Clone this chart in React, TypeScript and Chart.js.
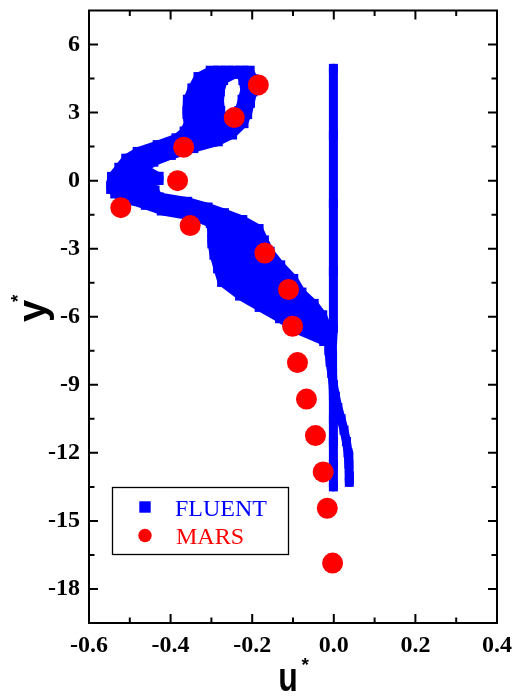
import React, { useEffect, useRef } from 'react';
import { Chart, registerables } from 'chart.js';

Chart.register(...registerables);

// ---------- axes ----------
const xRange = [-0.6, 0.4];
const yRange = [-19.5, 7.5];
const xTicks = [-0.6, -0.4, -0.2, 0.0, 0.2, 0.4];
const yTicks = [-18, -15, -12, -9, -6, -3, 0, 3, 6];
const xMinorTicks = [-0.5, -0.3, -0.1, 0.1, 0.3];
const yMinorTicks = [-16.5, -13.5, -10.5, -7.5, -4.5, -1.5, 1.5, 4.5];

// ---------- MARS (red circles) ----------
const marsU = [-0.185, -0.244, -0.368, -0.383, -0.522, -0.352, -0.169, -0.111, -0.101, -0.089, -0.067, -0.045, -0.026, -0.016, -0.003];
const marsY = [4.22, 2.78, 1.47, 0.0, -1.19, -1.98, -3.19, -4.8, -6.42, -8.02, -9.63, -11.24, -12.84, -14.44, -16.86];

// ---------- FLUENT (blue squares), several overlapping profiles ----------
const fluentS1 = [
  [-0.298, 4.78], [-0.328, 4.5], [-0.343, 4.0], [-0.354, 3.5], [-0.355, 3.0], [-0.352, 2.5],
  [-0.362, 2.1], [-0.382, 1.8], [-0.428, 1.5], [-0.477, 1.2], [-0.505, 0.9], [-0.522, 0.5],
  [-0.540, 0.1], [-0.542, -0.3], [-0.532, -0.5], [-0.492, -0.8], [-0.457, -1.0], [-0.418, -1.25],
  [-0.340, -1.5], [-0.298, -1.8], [-0.294, -2.2], [-0.294, -2.7], [-0.289, -3.2], [-0.280, -3.8],
  [-0.270, -4.4], [-0.226, -5.0], [-0.178, -5.5], [-0.128, -6.0], [-0.086, -6.5], [-0.020, -7.0],
];
const fluentS2 = [
  [-0.280, 4.78], [-0.308, 4.5], [-0.322, 4.0], [-0.333, 3.5], [-0.335, 3.0], [-0.330, 2.5],
  [-0.345, 2.1], [-0.365, 1.8], [-0.415, 1.5], [-0.465, 1.2], [-0.497, 0.9], [-0.515, 0.5],
  [-0.525, 0.1], [-0.535, -0.3], [-0.520, -0.5], [-0.485, -0.8], [-0.440, -1.0], [-0.400, -1.25],
  [-0.325, -1.5], [-0.285, -1.8], [-0.275, -2.2], [-0.272, -2.7], [-0.265, -3.2], [-0.253, -3.8],
  [-0.238, -4.4], [-0.198, -5.0], [-0.155, -5.5], [-0.110, -6.0], [-0.075, -6.5], [-0.018, -7.0],
];
const fluentS3 = [
  [-0.262, 4.78], [-0.290, 4.5], [-0.300, 4.0], [-0.308, 3.5], [-0.310, 3.0], [-0.300, 2.5],
  [-0.320, 2.1], [-0.345, 1.8], [-0.400, 1.5], [-0.450, 1.2], [-0.485, 0.9], [-0.505, 0.5],
  [-0.500, 0.1], [-0.525, -0.3], [-0.500, -0.5], [-0.470, -0.8], [-0.420, -1.0], [-0.375, -1.25],
  [-0.310, -1.5], [-0.270, -1.8], [-0.250, -2.2], [-0.247, -2.7], [-0.238, -3.2], [-0.223, -3.8],
  [-0.203, -4.4], [-0.168, -5.0], [-0.130, -5.5], [-0.090, -6.0], [-0.060, -6.5], [-0.016, -7.0],
];
const fluentS4 = [
  [-0.245, 4.78], [-0.275, 4.5], [-0.283, 4.0], [-0.285, 3.5], [-0.282, 3.0], [-0.270, 2.5],
  [-0.300, 2.1], [-0.325, 1.8], [-0.380, 1.5], [-0.430, 1.2], [-0.470, 0.9], [-0.495, 0.5],
  [-0.480, 0.1], [-0.510, -0.3], [-0.470, -0.5], [-0.460, -0.8], [-0.400, -1.0], [-0.350, -1.25],
  [-0.295, -1.5], [-0.255, -1.8], [-0.230, -2.2], [-0.222, -2.7], [-0.211, -3.2], [-0.193, -3.8],
  [-0.168, -4.4], [-0.138, -5.0], [-0.105, -5.5], [-0.070, -6.0], [-0.045, -6.5], [-0.015, -7.0],
];
const fluentS5 = [
  [-0.225, 4.78], [-0.218, 4.5], [-0.213, 4.0], [-0.220, 3.5], [-0.228, 3.0], [-0.240, 2.5],
  [-0.275, 2.1], [-0.300, 1.8], [-0.365, 1.5], [-0.415, 1.2], [-0.455, 0.9], [-0.480, 0.5],
  [-0.435, 0.1], [-0.495, -0.3], [-0.450, -0.5], [-0.445, -0.8], [-0.380, -1.0], [-0.330, -1.25],
  [-0.285, -1.5], [-0.240, -1.8], [-0.205, -2.2], [-0.197, -2.7], [-0.184, -3.2], [-0.162, -3.8],
  [-0.134, -4.4], [-0.108, -5.0], [-0.078, -5.5], [-0.050, -6.0], [-0.032, -6.5], [-0.013, -7.0],
];
const fluentS6 = [
  [-0.210, 4.78], [-0.201, 4.4], [-0.203, 4.0], [-0.209, 3.5], [-0.216, 3.0], [-0.225, 2.6],
  [-0.253, 2.1], [-0.288, 1.8], [-0.348, 1.5], [-0.403, 1.2], [-0.446, 0.9], [-0.472, 0.5],
  [-0.433, 0.1], [-0.487, -0.3], [-0.443, -0.5], [-0.433, -0.8], [-0.363, -1.0], [-0.313, -1.25],
  [-0.273, -1.5], [-0.228, -1.8], [-0.188, -2.2], [-0.175, -2.7], [-0.161, -3.2], [-0.135, -3.8],
  [-0.103, -4.4], [-0.083, -5.0], [-0.053, -5.5], [-0.032, -6.0], [-0.021, -6.5], [-0.012, -7.0],
];
const fluentTail = [
  [-0.012, -7.0], [-0.012, -7.5], [-0.009, -8.0], [-0.005, -8.5], [-0.001, -9.0], [0.004, -9.5],
  [0.010, -10.0], [0.018, -10.5], [0.025, -11.0], [0.031, -11.5], [0.035, -12.0], [0.037, -12.5],
  [0.038, -13.0], [0.038, -13.3],
];
const fluentWall = [
  [-0.001, 4.95], [-0.001, 2.0], [-0.001, -1.0], [-0.001, -4.0], [-0.001, -6.5], [-0.004, -7.5],
  [-0.003, -8.5], [-0.001, -9.5], [-0.001, -10.5], [-0.001, -11.5], [-0.001, -12.5], [-0.001, -13.5],
];

const BLUE = '#0000ff';
const RED = '#ff0000';
const SERIF = '"Liberation Serif", "Times New Roman", serif';
const SANS = '"Liberation Sans", Arial, sans-serif';

const decorPlugin = {
  id: 'decor',
  afterDraw(chart: any) {
    const { ctx, chartArea: a, scales } = chart;
    const xs = scales.x;
    const ys = scales.y;
    ctx.save();
    // frame
    ctx.strokeStyle = '#000';
    ctx.lineWidth = 2;
    ctx.strokeRect(a.left, a.top, a.right - a.left, a.bottom - a.top);
    // inward ticks on all four sides
    const tickSet = (vals: number[], len: number) => {
      ctx.beginPath();
      for (const v of vals) {
        const p = xs.getPixelForValue(v);
        ctx.moveTo(p, a.bottom); ctx.lineTo(p, a.bottom - len);
        ctx.moveTo(p, a.top); ctx.lineTo(p, a.top + len);
      }
      ctx.stroke();
    };
    const tickSetY = (vals: number[], len: number) => {
      ctx.beginPath();
      for (const v of vals) {
        const p = ys.getPixelForValue(v);
        ctx.moveTo(a.left, p); ctx.lineTo(a.left + len, p);
        ctx.moveTo(a.right, p); ctx.lineTo(a.right - len, p);
      }
      ctx.stroke();
    };
    tickSet(xTicks, 9);
    tickSet(xMinorTicks, 5.5);
    tickSetY(yTicks, 9);
    tickSetY(yMinorTicks, 5.5);

    // axis titles
    ctx.fillStyle = '#000';
    ctx.textAlign = 'left';
    ctx.textBaseline = 'alphabetic';
    // y*
    ctx.save();
    ctx.translate(a.left - 43.2, 322);
    ctx.rotate(-Math.PI / 2);
    ctx.font = `bold 40px ${SANS}`;
    ctx.fillText('y', 0, 0);
    ctx.font = `bold 19px ${SANS}`;
    ctx.fillText('*', 20, -21.5);
    ctx.restore();
    // u*
    ctx.save();
    ctx.translate(288, 691);
    ctx.scale(0.8, 1);
    ctx.font = `bold 40px ${SANS}`;
    ctx.textAlign = 'center';
    ctx.fillText('u', 0, 0);
    ctx.restore();
    ctx.font = `bold 19px ${SANS}`;
    ctx.fillText('*', 301.5, 671);

    // legend
    const lx = a.left + 23.5;
    const ly = a.bottom - 135.5;
    ctx.lineWidth = 1.3;
    ctx.strokeStyle = '#000';
    ctx.strokeRect(lx, ly, 176, 67);
    ctx.fillStyle = BLUE;
    ctx.fillRect(lx + 32.5 - 5.7, ly + 19.5 - 5.7, 11.4, 11.4);
    ctx.fillStyle = RED;
    ctx.beginPath();
    ctx.arc(lx + 32.5, ly + 48, 6.7, 0, Math.PI * 2);
    ctx.fill();
    ctx.font = `24px ${SERIF}`;
    ctx.fillStyle = BLUE;
    ctx.fillText('FLUENT', lx + 62.5, ly + 28);
    ctx.fillStyle = RED;
    ctx.fillText('MARS', lx + 63.5, ly + 56);
    ctx.restore();
  },
};

const toPts = (arr: number[][]) => arr.map(([x, y]) => ({ x, y }));

const fluentDataset = (arr: number[][], width: number) => ({
  label: 'FLUENT',
  data: toPts(arr),
  showLine: true,
  borderColor: BLUE,
  backgroundColor: BLUE,
  borderWidth: width,
  borderJoinStyle: 'round',
  borderCapStyle: 'butt',
  tension: 0,
  pointStyle: 'rect',
  pointRadius: width * 0.7071,
  pointBackgroundColor: BLUE,
  pointBorderWidth: 0,
  order: 1,
  clip: false,
});

export default function App() {
  const ref = useRef<HTMLCanvasElement>(null);
  useEffect(() => {
    const canvas = ref.current;
    if (!canvas) return;
    const chart = new Chart(canvas, {
      type: 'scatter',
      data: {
        datasets: [
          {
            label: 'MARS',
            data: marsU.map((x, i) => ({ x, y: marsY[i] })),
            pointStyle: 'circle',
            pointRadius: 10.5,
            backgroundColor: RED,
            pointBackgroundColor: RED,
            pointBorderWidth: 0,
            borderWidth: 0,
            showLine: false,
            order: 0,
          } as any,
          fluentDataset(fluentS1, 13),
          fluentDataset(fluentS2, 13),
          fluentDataset(fluentS3, 13),
          fluentDataset(fluentS4, 13),
          fluentDataset(fluentS5, 13),
          fluentDataset(fluentS6, 13),
          fluentDataset(fluentTail, 9),
          fluentDataset(fluentWall, 9),
        ],
      },
      options: {
        responsive: false,
        animation: false,
        events: [],
        layout: { padding: { left: 8, right: 23, top: 6, bottom: 0 } },
        plugins: { legend: { display: false }, tooltip: { enabled: false } },
        scales: {
          x: {
            type: 'linear',
            position: 'bottom',
            min: xRange[0],
            max: xRange[1],
            grid: { display: false, drawTicks: false },
            border: { display: false },
            ticks: {
              padding: 8,
              maxRotation: 0,
              autoSkip: false,
              color: '#000',
              font: { family: SERIF, size: 24, weight: 'bold' },
              callback: (v: any) => Number(v).toFixed(1),
            },
            afterBuildTicks: (s: any) => { s.ticks = xTicks.map((v) => ({ value: v })); },
            afterFit: (s: any) => { s.height = 76; s.paddingLeft = 0; s.paddingRight = 0; },
          },
          y: {
            type: 'linear',
            position: 'left',
            min: yRange[0],
            max: yRange[1],
            grid: { display: false, drawTicks: false },
            border: { display: false },
            ticks: {
              padding: 9,
              autoSkip: false,
              color: '#000',
              font: { family: SERIF, size: 24, weight: 'bold' },
              callback: (v: any) => String(v),
            },
            afterBuildTicks: (s: any) => { s.ticks = yTicks.map((v) => ({ value: v })); },
            afterFit: (s: any) => { s.width = 81; s.paddingTop = 0; s.paddingBottom = 0; },
          },
        },
      } as any,
      plugins: [decorPlugin],
    });
    return () => chart.destroy();
  }, []);

  return (
    <div style={{ position: 'absolute', left: 0, top: 0, width: 520, height: 699, background: '#fff' }}>
      <canvas ref={ref} width={520} height={699} style={{ display: 'block' }} />
    </div>
  );
}
